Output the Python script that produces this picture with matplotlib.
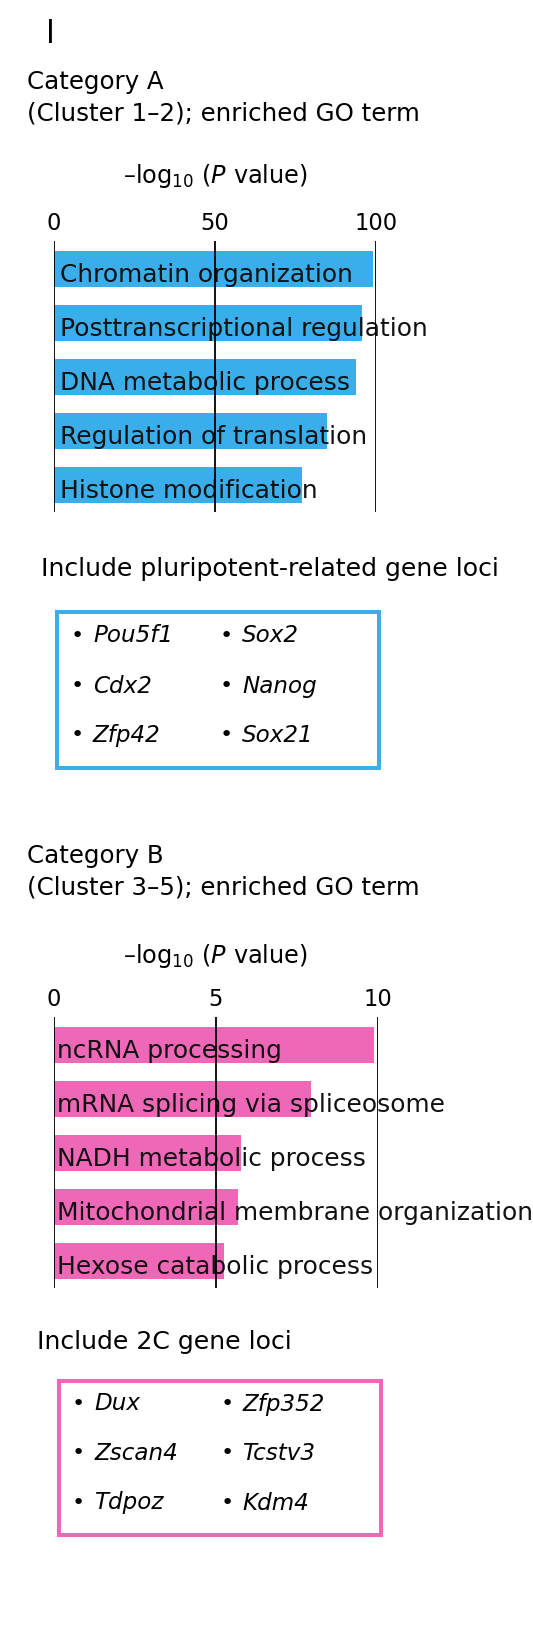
import matplotlib
matplotlib.use("Agg")
import matplotlib.pyplot as plt

plt.rcParams['font.family'] = ['DejaVu Sans']
plt.rcParams['mathtext.fontset'] = 'dejavusans'

W, H = 533, 1632

# data
terms_a = ["Chromatin organization", "Posttranscriptional regulation",
           "DNA metabolic process", "Regulation of translation",
           "Histone modification"]
logp_a = [99.0, 95.5, 93.8, 84.8, 76.9]
ticks_a = [0, 50, 100]
genes_a = [["Pou5f1", "Cdx2", "Zfp42"], ["Sox2", "Nanog", "Sox21"]]

terms_b = ["ncRNA processing", "mRNA splicing via spliceosome",
           "NADH metabolic process", "Mitochondrial membrane organization",
           "Hexose catabolic process"]
logp_b = [9.87, 7.93, 5.76, 5.67, 5.26]
ticks_b = [0, 5, 10]
genes_b = [["Dux", "Zscan4", "Tdpoz"], ["Zfp352", "Tcstv3", "Kdm4"]]

BLUE = "#39aeea"
PINK = "#ef68b8"
AXIS_TITLE = "\u2013log$_{10}$ ($\\mathit{P}$ value)"

fig = plt.figure(figsize=(W / 100, H / 100), dpi=100)
renderer = fig.canvas.get_renderer()


def fit_size(text, target_px, **kw):
    # font size that makes text about target_px wide
    t = fig.text(0, 0, text, fontsize=10, **kw)
    w = t.get_window_extent(renderer=renderer).width
    t.remove()
    return 10 * target_px / w


FS = fit_size("Include pluripotent-related gene loci", 458)
FS_TITLE = fit_size("(Cluster 1\u20132); enriched GO term", 391)
FS_BAR = fit_size("Posttranscriptional regulation", 368)
FS_TICK = fit_size("100", 43)
FS_AX = fit_size(AXIS_TITLE, 186)
FS_IT = fit_size("Pou5f1", 80, style="italic")


def fx(px):
    return px / W


def fy(py):
    return 1 - py / H


def px_axes(left, top, right, bottom):
    return fig.add_axes([fx(left), fy(bottom), (right - left) / W, (bottom - top) / H])


def bar_panel(top, bottom, right, terms, vals, ticks, color, xoff):
    ax = px_axes(54, top, right, bottom)
    ax.barh(range(len(vals)), vals, height=0.67, color=color, zorder=1)
    for t in ticks:
        ax.axvline(t, color="black", lw=1.3, zorder=3)
    ax.set_xlim(0, ticks[-1])
    ax.set_ylim(len(vals) - 0.5, -0.52)
    ax.set_xticks(ticks)
    ax.set_xticklabels([str(t) for t in ticks])
    ax.xaxis.tick_top()
    ax.tick_params(axis="x", length=0, pad=4.5, labelsize=FS_TICK)
    ax.set_yticks([])
    for s in ax.spines.values():
        s.set_visible(False)
    ax.patch.set_alpha(0)
    for i, term in enumerate(terms):
        ax.annotate(term, xy=(0, i), xytext=(xoff, -9), textcoords="offset points",
                    va="baseline", ha="left", fontsize=FS_BAR, color="#111111", zorder=2)
    return ax


def gene_box(left, top, right, bottom, color, cols, rows_y, bullet_x, text_x):
    ax = px_axes(left, top, right, bottom)
    ax.set_xticks([])
    ax.set_yticks([])
    for s in ax.spines.values():
        s.set_color(color)
        s.set_linewidth(2.9)
    for c, col in enumerate(cols):
        for r, g in enumerate(col):
            fig.text(fx(bullet_x[c]), fy(rows_y[r]), "\u2022", ha="center", va="center",
                     fontsize=FS - 2)
            fig.text(fx(text_x[c]), fy(rows_y[r]), g, ha="left", va="center",
                     fontsize=FS_IT, style="italic")


fig.text(fx(46), fy(43), "l", fontsize=23, va="baseline")

# category A
fig.text(fx(27), fy(89), "Category A", fontsize=FS_TITLE, va="baseline")
fig.text(fx(27), fy(121), "(Cluster 1\u20132); enriched GO term", fontsize=FS_TITLE, va="baseline")
fig.text(fx(215), fy(183), AXIS_TITLE, fontsize=FS_AX, ha="center", va="baseline")
bar_panel(241, 512, 376, terms_a, logp_a, ticks_a, BLUE, 4.5)
fig.text(fx(41), fy(576), "Include pluripotent-related gene loci", fontsize=FS, va="baseline")
gene_box(57, 612, 379, 768, BLUE, genes_a, [636, 686, 735], [77, 226], [93, 242])

# category B
fig.text(fx(27), fy(863), "Category B", fontsize=FS_TITLE, va="baseline")
fig.text(fx(27), fy(894), "(Cluster 3\u20135); enriched GO term", fontsize=FS_TITLE, va="baseline")
fig.text(fx(215), fy(963), AXIS_TITLE, fontsize=FS_AX, ha="center", va="baseline")
bar_panel(1017, 1288, 378, terms_b, logp_b, ticks_b, PINK, 2.5)
fig.text(fx(37), fy(1349), "Include 2C gene loci", fontsize=FS, va="baseline")
gene_box(59, 1381, 381, 1535, PINK, genes_b, [1404, 1453, 1503], [78, 227], [94, 242])

fig.savefig("out.png", dpi=100)
